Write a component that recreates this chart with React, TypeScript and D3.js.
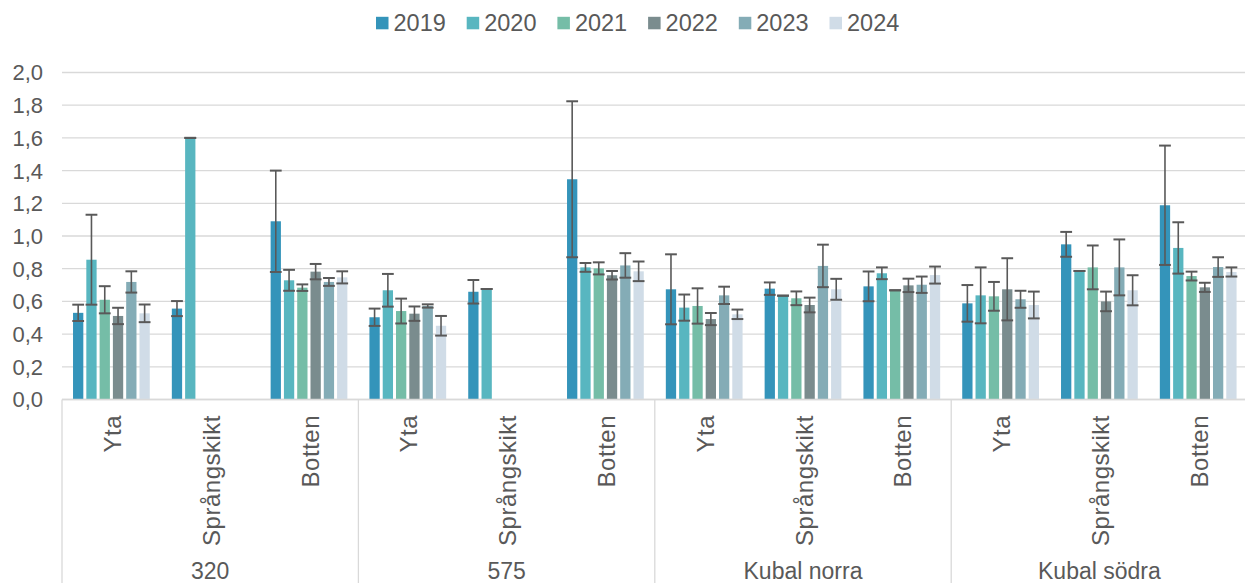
import React from "react";
import * as d3 from "d3";

const sites = ["320", "575", "Kubal norra", "Kubal södra"];
const depths = ["Yta", "Språngskikt", "Botten"];
const years = ["2019", "2020", "2021", "2022", "2023", "2024"];
const colors = ["#3494BA", "#58B6C0", "#75BDA7", "#7A8C8E", "#84ACB6", "#D0DCE7"];
const yTicks = [0, 0.2, 0.4, 0.6, 0.8, 1.0, 1.2, 1.4, 1.6, 1.8, 2.0];

const v2019 = [0.53, 0.556, 1.09, 0.503, 0.659, 1.347, 0.674, 0.678, 0.692, 0.588, 0.949, 1.188];
const e2019 = [0.05, 0.046, 0.31, 0.053, 0.072, 0.477, 0.214, 0.038, 0.091, 0.112, 0.076, 0.365];
const v2020 = [0.855, 1.6, 0.729, 0.668, 0.676, 0.808, 0.562, 0.635, 0.772, 0.637, 0.786, 0.927];
const e2020 = [0.275, 0, 0.064, 0.1, 0, 0.027, 0.08, 0, 0.036, 0.171, 0, 0.157];
const v2021 = [0.61, null, 0.684, 0.541, null, 0.802, 0.572, 0.619, 0.668, 0.631, 0.808, 0.755];
const e2021 = [0.083, null, 0.02, 0.076, null, 0.037, 0.108, 0.042, 0, 0.088, 0.134, 0.027];
const v2022 = [0.511, null, 0.782, 0.525, null, 0.76, 0.492, 0.578, 0.698, 0.674, 0.6, 0.686];
const e2022 = [0.05, null, 0.047, 0.044, null, 0.026, 0.037, 0.045, 0.041, 0.19, 0.06, 0.028];
const v2023 = [0.719, null, 0.719, 0.572, null, 0.82, 0.637, 0.817, 0.702, 0.613, 0.808, 0.81];
const e2023 = [0.065, null, 0.024, 0.01, null, 0.075, 0.053, 0.13, 0.05, 0.052, 0.171, 0.06];
const v2024 = [0.527, null, 0.747, 0.451, null, 0.784, 0.521, 0.674, 0.761, 0.578, 0.668, 0.78];
const e2024 = [0.054, null, 0.037, 0.06, null, 0.06, 0.029, 0.064, 0.052, 0.082, 0.092, 0.028];

const values = [v2019, v2020, v2021, v2022, v2023, v2024];
const errors = [e2019, e2020, e2021, e2022, e2023, e2024];

const W = 1245;
const H = 583;
const left = 62;
const right = 1247.6;
const FONT = "'Liberation Sans', Arial, sans-serif";
const TXT = "#595959";
const GRID = "#D9D9D9";

export default function App() {
  const cats = sites.flatMap((s) => depths.map((d) => `${s}|${d}`));
  const x0 = d3.scaleBand<string>().domain(cats).range([left, right]).padding(0);
  const bw = x0.bandwidth();
  const x1 = d3
    .scaleBand<string>()
    .domain(years)
    .range([0, bw])
    .paddingInner(0.2256)
    .paddingOuter(0.83);
  const y = d3.scaleLinear().domain([0, 2]).range([399.5, 72.5]);
  const y0 = y(0);
  const siteX = d3.scaleBand<string>().domain(sites).range([left, right]).padding(0);

  const barW = x1.bandwidth();
  const capW = barW + 1.5;

  return (
    <svg
      width={W}
      height={H}
      style={{ position: "absolute", left: 0, top: 0, background: "#fff" }}
      fontFamily={FONT}
    >
      {yTicks.map((t) => (
        <line key={t} x1={left} x2={W} y1={y(t)} y2={y(t)} stroke={GRID} strokeWidth={1.3} />
      ))}
      {yTicks.map((t) => (
        <text
          key={"l" + t}
          x={43}
          y={y(t)}
          dy="0.36em"
          textAnchor="end"
          fontSize={22}
          fill={TXT}
        >
          {d3.format(".1f")(t).replace(".", ",")}
        </text>
      ))}
      {years.map((yr, si) =>
        cats.map((c, ci) => {
          const v = values[si][ci];
          if (v == null) return null;
          const bx = (x0(c) as number) + (x1(yr) as number);
          return (
            <rect
              key={yr + c}
              x={bx}
              y={y(v)}
              width={barW}
              height={y0 - y(v)}
              fill={colors[si]}
            />
          );
        })
      )}
      {years.map((yr, si) =>
        cats.map((c, ci) => {
          const v = values[si][ci];
          const e = errors[si][ci];
          if (v == null || e == null) return null;
          const cx = (x0(c) as number) + (x1(yr) as number) + barW / 2;
          const yt = y(v + e);
          const yb = y(v - e);
          return (
            <g key={"e" + yr + c} stroke="#595959">
              <line x1={cx} x2={cx} y1={yt} y2={yb} strokeWidth={1.6} />
              <line x1={cx - capW / 2} x2={cx + capW / 2} y1={yt} y2={yt} strokeWidth={2} />
              <line x1={cx - capW / 2} x2={cx + capW / 2} y1={yb} y2={yb} strokeWidth={2} />
            </g>
          );
        })
      )}
      <line x1={left} x2={W} y1={y0} y2={y0} stroke={GRID} strokeWidth={1.3} />
      {sites.map((s) => (
        <line
          key={"sep" + s}
          x1={siteX(s) as number}
          x2={siteX(s) as number}
          y1={y0}
          y2={H}
          stroke={GRID}
          strokeWidth={1.3}
        />
      ))}
      {cats.map((c) => {
        const cx = (x0(c) as number) + bw / 2;
        const label = c.split("|")[1];
        return (
          <text
            key={"d" + c}
            transform={`translate(${cx + 1},415) rotate(-90)`}
            dy="0.36em"
            textAnchor="end"
            fontSize={24}
            letterSpacing={0.5}
            fill={TXT}
          >
            {label}
          </text>
        );
      })}
      {sites.map((s) => (
        <text
          key={"s" + s}
          x={(siteX(s) as number) + siteX.bandwidth() / 2}
          y={578.5}
          textAnchor="middle"
          fontSize={23}
          fill={TXT}
        >
          {s}
        </text>
      ))}
      {years.map((yr, i) => {
        const lx = 376 + i * 90.7;
        return (
          <g key={"lg" + yr}>
            <rect x={lx} y={16.8} width={12.5} height={12.5} fill={colors[i]} />
            <text x={lx + 17.5} y={31} fontSize={23.5} fill={TXT}>
              {yr}
            </text>
          </g>
        );
      })}
    </svg>
  );
}
